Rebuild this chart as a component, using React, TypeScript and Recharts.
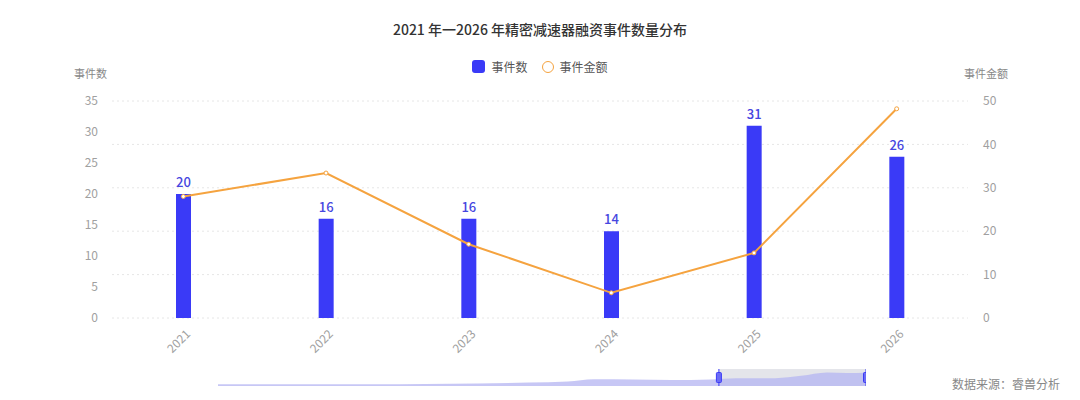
import React from 'react';
import {
  ComposedChart, Bar, Line, XAxis, YAxis, CartesianGrid, LabelList,
  AreaChart, Area, ReferenceArea, ReferenceLine, ReferenceDot,
} from 'recharts';

const years = ['2021', '2022', '2023', '2024', '2025', '2026'];
const eventCounts = [20, 16, 16, 14, 31, 26];
const eventAmounts = [28, 33.4, 17, 5.8, 15, 48.2];
const leftTicks = [0, 5, 10, 15, 20, 25, 30, 35];
const rightTicks = [0, 10, 20, 30, 40, 50];

// slider shadow under the chart
const sliderPos = [0, 8, 16, 24, 32, 40, 48, 54, 58, 64, 70, 76, 80, 86, 90, 94, 97, 100];
const sliderVals = [1, 1, 1, 1, 1.2, 1.5, 2, 2.6, 4, 3.8, 3.5, 3.8, 4.5, 4.6, 6, 8, 7.6, 7.8];
const windowRange = [77.3, 100];

const FONT = '"Noto Sans CJK SC", "Noto Sans", sans-serif';
const BLUE = '#3a3af7';
const ORANGE = '#f5a33f';

const data = years.map((y, i) => ({ year: y, count: eventCounts[i], amount: eventAmounts[i] }));
const sliderData = sliderPos.map((p, i) => ({ p, v: sliderVals[i] }));

const XTick = (props: any) => {
  const { x, y, payload } = props;
  return (
    <g transform={`translate(${x + 5},${y + 6})`}>
      <text transform="rotate(-45)" textAnchor="end" fill="#a0a0a0" fontSize={12} fontFamily={FONT} dy={4}>
        {payload.value}
      </text>
    </g>
  );
};

const Handle = (props: any) => {
  const { cx, cy } = props;
  return <rect x={cx - 2.5} y={cy - 5} width={5} height={10} rx={1} fill="#6b6bf5" stroke={BLUE} strokeWidth={1} />;
};

export default function App() {
  return (
    <div style={{ position: 'absolute', left: 0, top: 0, width: 1080, height: 400, background: '#fff', fontFamily: FONT }}>
      <div style={{ position: 'absolute', top: 19, width: 1080, textAlign: 'center', fontSize: 14, fontWeight: 500, color: '#333' }}>
        2021 年一2026 年精密减速器融资事件数量分布
      </div>
      <div style={{ position: 'absolute', top: 58, width: 1080, display: 'flex', justifyContent: 'center', alignItems: 'center', fontSize: 12, color: '#555' }}>
        <span style={{ display: 'inline-block', width: 13, height: 13, borderRadius: 3, background: BLUE, marginRight: 6 }} />
        <span style={{ marginRight: 14 }}>事件数</span>
        <span style={{ display: 'inline-block', width: 10, height: 10, borderRadius: '50%', border: `1.5px solid ${ORANGE}`, marginRight: 6 }} />
        <span>事件金额</span>
      </div>
      <div style={{ position: 'absolute', left: 74, top: 65, fontSize: 11, color: '#888' }}>事件数</div>
      <div style={{ position: 'absolute', left: 964, top: 65, fontSize: 11, color: '#888' }}>事件金额</div>
      <div style={{ position: 'absolute', left: 952, top: 375, fontSize: 12, color: '#888' }}>数据来源：睿兽分析</div>

      <ComposedChart width={1080} height={400} data={data} margin={{ top: 101, right: 62, bottom: 32, left: 62 }}>
        <CartesianGrid yAxisId="right" vertical={false} stroke="#e6e6e6" strokeDasharray="2 3" />
        <XAxis dataKey="year" axisLine={false} tickLine={false} height={50} tick={<XTick />} interval={0} />
        <YAxis yAxisId="left" orientation="left" width={50} domain={[0, 35]} ticks={leftTicks}
          axisLine={false} tickLine={false} tickSize={0} tickMargin={14}
          tick={{ fill: '#a0a0a0', fontSize: 12, fontFamily: FONT }} />
        <YAxis yAxisId="right" orientation="right" width={50} domain={[0, 50]} ticks={rightTicks}
          axisLine={false} tickLine={false} tickSize={0} tickMargin={15}
          tick={{ fill: '#a0a0a0', fontSize: 12, fontFamily: FONT }} />
        <Bar yAxisId="left" dataKey="count" name="事件数" fill={BLUE} barSize={15} isAnimationActive={false}>
          <LabelList dataKey="count" position="top" offset={7} fill="#4646e0" fontSize={13} fontWeight={500} fontFamily={FONT} />
        </Bar>
        <Line yAxisId="right" type="linear" dataKey="amount" name="事件金额" stroke={ORANGE} strokeWidth={2}
          dot={{ r: 2, fill: '#fff', stroke: ORANGE, strokeWidth: 1 }} isAnimationActive={false} />
      </ComposedChart>

      <div style={{ position: 'absolute', left: 218, top: 366, width: 648, height: 22 }}>
        <AreaChart width={648} height={22} data={sliderData} margin={{ top: 3, right: 0, bottom: 2, left: 0 }}>
          <XAxis dataKey="p" type="number" domain={[0, 100]} hide />
          <YAxis domain={[0, 10]} hide />
          <ReferenceArea x1={windowRange[0]} x2={windowRange[1]} y1={0} y2={10} fill="#c9ccd6" fillOpacity={0.5} stroke="none" />
          <Area type="monotone" dataKey="v" stroke="none" fill="#b4b4f2" fillOpacity={0.75} isAnimationActive={false} />
          <ReferenceLine x={windowRange[0]} stroke={BLUE} strokeWidth={1} />
          <ReferenceLine x={windowRange[1]} stroke={BLUE} strokeWidth={1} />
          <ReferenceDot x={windowRange[0]} y={5} shape={<Handle />} />
          <ReferenceDot x={windowRange[1]} y={5} shape={<Handle />} />
        </AreaChart>
      </div>
    </div>
  );
}
